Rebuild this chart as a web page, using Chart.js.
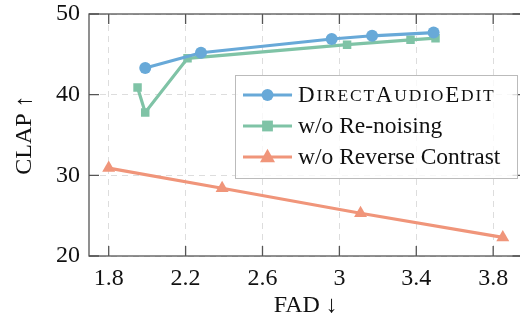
<!DOCTYPE html>
<html>
<head>
<meta charset="utf-8">
<script src="https://cdn.jsdelivr.net/npm/chart.js@4.4.1/dist/chart.umd.min.js"></script>
<style>
  html, body { margin: 0; padding: 0; background: #fff; overflow: hidden; }
  #wrap { position: relative; width: 530px; height: 320px; }
</style>
</head>
<body>
<div id="wrap"><canvas id="c"></canvas></div>
<script>
// ---- data ----
const xTicks = [1.8, 2.2, 2.6, 3.0, 3.4, 3.8];
const yTicks = [20, 30, 40, 50];
const seriesNames = ['DirectAudioEdit', 'w/o Re-noising', 'w/o Reverse Contrast'];

const fullFad = [1.99, 2.28, 2.96, 3.17, 3.49];
const fullClap = [43.3, 45.2, 46.9, 47.3, 47.7];

const noRenoiseFad = [1.95, 1.99, 2.21, 3.04, 3.37, 3.50];
const noRenoiseClap = [40.9, 37.8, 44.5, 46.2, 46.8, 47.0];

const noContrastFad = [1.80, 2.39, 3.11, 3.85];
const noContrastClap = [30.9, 28.4, 25.3, 22.3];

const colors = ['#68a9d8', '#7fc3a6', '#f0957a'];
const markers = ['circle', 'rect', 'triangle'];
const markerSizes = [6, 6, 7.5];

const FONT = '"Liberation Serif", "DejaVu Serif", serif';
Chart.defaults.font.family = FONT;
Chart.defaults.font.size = 24;
Chart.defaults.color = '#111';

function toPoints(xs, ys) {
  return xs.map((x, i) => ({ x: x, y: ys[i] }));
}

const seriesData = [
  toPoints(fullFad, fullClap),
  toPoints(noRenoiseFad, noRenoiseClap),
  toPoints(noContrastFad, noContrastClap),
];

const datasets = seriesData.map((pts, i) => ({
  label: seriesNames[i],
  data: pts,
  showLine: true,
  borderColor: colors[i],
  backgroundColor: colors[i],
  borderWidth: 3.2,
  pointStyle: markers[i],
  pointRadius: markerSizes[i],
  pointBorderWidth: 0,
  tension: 0,
}));

// draws the closed frame with inward ticks, like pgfplots
const framePlugin = {
  id: 'frame',
  afterDatasetsDraw(chart) {
    const { ctx, chartArea: a, scales } = chart;
    ctx.save();
    ctx.strokeStyle = '#555';
    ctx.lineWidth = 1.3;
    ctx.strokeRect(a.left, a.top, a.right - a.left, a.bottom - a.top);
    const len = 10;
    ctx.beginPath();
    xTicks.forEach(v => {
      const px = scales.x.getPixelForValue(v);
      ctx.moveTo(px, a.bottom); ctx.lineTo(px, a.bottom - len);
      ctx.moveTo(px, a.top); ctx.lineTo(px, a.top + len);
    });
    yTicks.forEach(v => {
      const py = scales.y.getPixelForValue(v);
      ctx.moveTo(a.left, py); ctx.lineTo(a.left + len, py);
      ctx.moveTo(a.right, py); ctx.lineTo(a.right - len, py);
    });
    ctx.stroke();
    ctx.restore();
  }
};

function drawMarker(ctx, style, x, y, r, color) {
  ctx.fillStyle = color;
  ctx.beginPath();
  if (style === 'circle') {
    ctx.arc(x, y, r, 0, Math.PI * 2);
  } else if (style === 'rect') {
    ctx.rect(x - r * 0.9, y - r * 0.9, 1.8 * r, 1.8 * r);
  } else {
    ctx.moveTo(x, y - r * 1.1);
    ctx.lineTo(x + r, y + r * 0.7);
    ctx.lineTo(x - r, y + r * 0.7);
    ctx.closePath();
  }
  ctx.fill();
}

// small caps text, big letters at full size, the rest scaled down
function drawSmallCaps(ctx, text, x, y, size) {
  let cx = x;
  for (const ch of text) {
    const big = ch === ch.toUpperCase();
    const s = big ? size : size * 0.76;
    ctx.font = s + 'px ' + FONT;
    ctx.fillText(ch.toUpperCase(), cx, y);
    cx += ctx.measureText(ch.toUpperCase()).width + 1.8;
  }
}

const legendPlugin = {
  id: 'boxLegend',
  afterDraw(chart) {
    const { ctx } = chart;
    const bx = 235, by = 75, bw = 282, bh = 103;
    ctx.save();
    ctx.fillStyle = 'rgba(255,255,255,0.8)';
    ctx.fillRect(bx, by, bw, bh);
    ctx.strokeStyle = '#bbb';
    ctx.lineWidth = 1;
    ctx.strokeRect(bx + 0.5, by + 0.5, bw, bh);
    const rows = [95, 126, 157];
    rows.forEach((ry, i) => {
      ctx.strokeStyle = colors[i];
      ctx.lineWidth = 3.2;
      ctx.beginPath();
      ctx.moveTo(243, ry); ctx.lineTo(292, ry);
      ctx.stroke();
      drawMarker(ctx, markers[i], 267.5, ry, markerSizes[i], colors[i]);
      ctx.fillStyle = '#111';
      ctx.textBaseline = 'middle';
      ctx.textAlign = 'left';
      if (i === 0) {
        drawSmallCaps(ctx, seriesNames[i], 298, ry + 1, 23);
      } else {
        ctx.font = '23.5px ' + FONT;
        ctx.fillText(seriesNames[i], 298, ry + 1);
      }
    });
    ctx.restore();
  }
};

new Chart(document.getElementById('c'), {
  type: 'scatter',
  data: { datasets },
  options: {
    responsive: true,
    maintainAspectRatio: false,
    animation: false,
    layout: { padding: { top: 14, right: 7, left: 0, bottom: 0 } },
    plugins: { legend: { display: false }, tooltip: { enabled: false } },
    scales: {
      x: {
        type: 'linear',
        min: 1.6975,
        max: 3.9525,
        afterBuildTicks: s => { s.ticks = xTicks.map(v => ({ value: v })); },
        afterFit: s => { s.height = 64; },
        ticks: {
          padding: 8,
          callback: v => String(Math.round(v * 10) / 10),
        },
        grid: { color: '#ddd', lineWidth: 1, drawTicks: false },
        border: { display: false, dash: [6, 5] },
        title: { display: true, text: 'FAD ↓', padding: { top: 8, bottom: 0 } },
      },
      y: {
        type: 'linear',
        min: 20,
        max: 50,
        afterBuildTicks: s => { s.ticks = yTicks.map(v => ({ value: v })); },
        afterFit: s => { s.width = 89; s.paddingTop = 0; s.paddingBottom = 0; },
        ticks: { padding: 9, font: { lineHeight: 0.9 } },
        grid: { color: '#ddd', lineWidth: 1, drawTicks: false },
        border: { display: false, dash: [6, 5] },
        title: { display: true, text: 'CLAP ↑', padding: { top: 10, bottom: 0 } },
      },
    },
  },
  plugins: [framePlugin, legendPlugin],
});
</script>
</body>
</html>
